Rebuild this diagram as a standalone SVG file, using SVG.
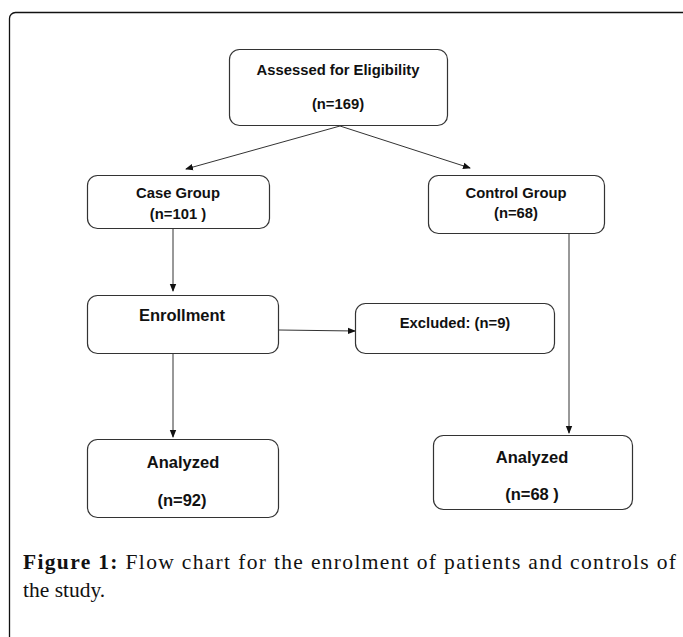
<svg xmlns="http://www.w3.org/2000/svg" width="683" height="637" viewBox="0 0 683 637">
<style>
.box{fill:#fff;stroke:#333;stroke-width:1.2}
.t{font-family:"Liberation Sans",Arial,sans-serif;font-weight:bold;font-size:14.8px;fill:#111;text-anchor:middle}
.tl{font-size:16.5px}
.c{stroke:#333;stroke-width:1;fill:none;marker-end:url(#ah)}
.cap{font-family:"Liberation Serif","Times New Roman",serif;font-size:21.5px;fill:#111}
</style>
<defs>
<marker id="ah" markerWidth="8" markerHeight="8" refX="7" refY="4" orient="auto" markerUnits="userSpaceOnUse">
<path d="M0,0.8 L8,4 L0,7.2 Z" fill="#111"/>
</marker>
</defs>
<rect x="0" y="0" width="683" height="637" fill="#fff"/>
<rect x="9.5" y="12.5" width="700" height="650" rx="6" fill="none" stroke="#111" stroke-width="1.3"/>
<g id="connectors">
<line class="c" x1="340" y1="126" x2="186" y2="169"/>
<line class="c" x1="340" y1="126" x2="470" y2="168"/>
<line class="c" x1="173" y1="229" x2="173" y2="291"/>
<line class="c" x1="279" y1="330" x2="355" y2="331"/>
<line class="c" x1="173" y1="353" x2="173" y2="437"/>
<line class="c" x1="569" y1="234" x2="569" y2="433"/>
</g>
<g id="assessed">
<rect class="box" x="229.5" y="49.5" width="218" height="76" rx="10"/>
<text class="t" x="338" y="75">Assessed for Eligibility</text>
<text class="t" x="338" y="109">(n=169)</text>
</g>
<g id="case">
<rect class="box" x="87.5" y="175.5" width="182" height="53" rx="10"/>
<text class="t" x="178" y="198">Case Group</text>
<text class="t" x="178" y="219">(n=101 )</text>
</g>
<g id="control">
<rect class="box" x="428.5" y="175.5" width="176" height="58" rx="10"/>
<text class="t" x="516" y="198">Control Group</text>
<text class="t" x="516" y="218">(n=68)</text>
</g>
<g id="enrollment">
<rect class="box" x="87.5" y="295.5" width="191" height="58" rx="10"/>
<text class="t tl" x="182" y="321">Enrollment</text>
</g>
<g id="excluded">
<rect class="box" x="355.5" y="303.5" width="199" height="50" rx="10"/>
<text class="t" x="455" y="328">Excluded: (n=9)</text>
</g>
<g id="analyzed-case">
<rect class="box" x="87.5" y="439.5" width="191" height="78" rx="10"/>
<text class="t tl" x="183" y="468">Analyzed</text>
<text class="t tl" x="182" y="506">(n=92)</text>
</g>
<g id="analyzed-control">
<rect class="box" x="433.5" y="435.5" width="199" height="74" rx="10"/>
<text class="t tl" x="532" y="463">Analyzed</text>
<text class="t tl" x="532" y="500">(n=68 )</text>
</g>
<g id="caption">
<text class="cap" x="23" y="569" textLength="653" lengthAdjust="spacing"><tspan font-weight="bold">Figure 1:</tspan> Flow chart for the enrolment of patients and controls of</text>
<text class="cap" x="23" y="597">the study.</text>
</g>
</svg>
